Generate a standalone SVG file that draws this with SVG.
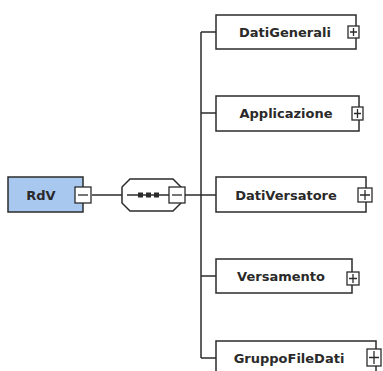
<svg xmlns="http://www.w3.org/2000/svg" width="383" height="371" viewBox="0 0 383 371">
<style>
.box{fill:#ffffff;stroke:#2b2b2b;stroke-width:1.5}
.root{fill:#a9c8f0;stroke:#2b2b2b;stroke-width:1.5}
.tog{fill:#ffffff;stroke:#2b2b2b;stroke-width:1.3}
.sym{stroke:#2b2b2b;stroke-width:1.3;fill:none}
.ln{stroke:#2b2b2b;stroke-width:1.5;fill:none}
.lbl{font-family:"DejaVu Sans",Verdana,sans-serif;font-weight:bold;font-size:13px;fill:#2a2a2a;text-anchor:middle}
</style>
<rect width="383" height="371" fill="#ffffff"/>
<g id="connectors">
<line class="ln" x1="92" y1="195" x2="122" y2="195"/>
<line class="ln" x1="185" y1="195" x2="216" y2="195"/>
<line class="ln" x1="201" y1="32" x2="201" y2="358"/>
<line class="ln" x1="201" y1="32" x2="216" y2="32"/>
<line class="ln" x1="201" y1="113" x2="216" y2="113"/>
<line class="ln" x1="201" y1="276" x2="216" y2="276"/>
<line class="ln" x1="201" y1="358" x2="216" y2="358"/>
</g>
<g id="RdV">
<rect class="root" x="8" y="177" width="75" height="35"/>
<text class="lbl" x="41" y="200">RdV</text>
<rect class="tog" x="75" y="187" width="16" height="16"/>
<line class="sym" x1="78" y1="195" x2="88" y2="195"/>
</g>
<g id="sequence">
<polygon class="box" points="130,179 173,179 181,187 181,203 173,211 130,211 122,203 122,187"/>
<line class="ln" x1="127" y1="195" x2="170" y2="195"/>
<rect x="138" y="192.5" width="5" height="5" fill="#2b2b2b"/>
<rect x="146" y="192.5" width="5" height="5" fill="#2b2b2b"/>
<rect x="154" y="192.5" width="5" height="5" fill="#2b2b2b"/>
<rect class="tog" x="169" y="187" width="16" height="16"/>
<line class="sym" x1="172" y1="195" x2="182" y2="195"/>
</g>
<g id="DatiGenerali">
<rect class="box" x="216" y="15" width="140" height="34"/>
<text class="lbl" x="285" y="37">DatiGenerali</text>
<rect class="tog" x="348" y="26" width="11" height="12"/>
<path class="sym" d="M350 32h7M353.5 28v8"/>
</g>
<g id="Applicazione">
<rect class="box" x="216" y="96" width="143" height="35"/>
<text class="lbl" x="286" y="118">Applicazione</text>
<rect class="tog" x="352" y="107" width="11" height="13"/>
<path class="sym" d="M354 113.5h7M357.5 109v9"/>
</g>
<g id="DatiVersatore">
<rect class="box" x="216" y="177" width="150" height="35"/>
<text class="lbl" x="286" y="200">DatiVersatore</text>
<rect class="tog" x="358" y="188" width="14" height="14"/>
<path class="sym" d="M360 195h10M365 190v10"/>
</g>
<g id="Versamento">
<rect class="box" x="216" y="259" width="136" height="34"/>
<text class="lbl" x="281" y="281">Versamento</text>
<rect class="tog" x="347" y="272" width="12" height="13"/>
<path class="sym" d="M349 278.5h8M353 274v9"/>
</g>
<g id="GruppoFileDati">
<rect class="box" x="216" y="341" width="160" height="36"/>
<text class="lbl" x="289" y="363">GruppoFileDati</text>
<rect class="tog" x="367" y="349" width="14" height="17"/>
<path class="sym" d="M369 357.5h10M374 351v13"/>
</g>
</svg>
